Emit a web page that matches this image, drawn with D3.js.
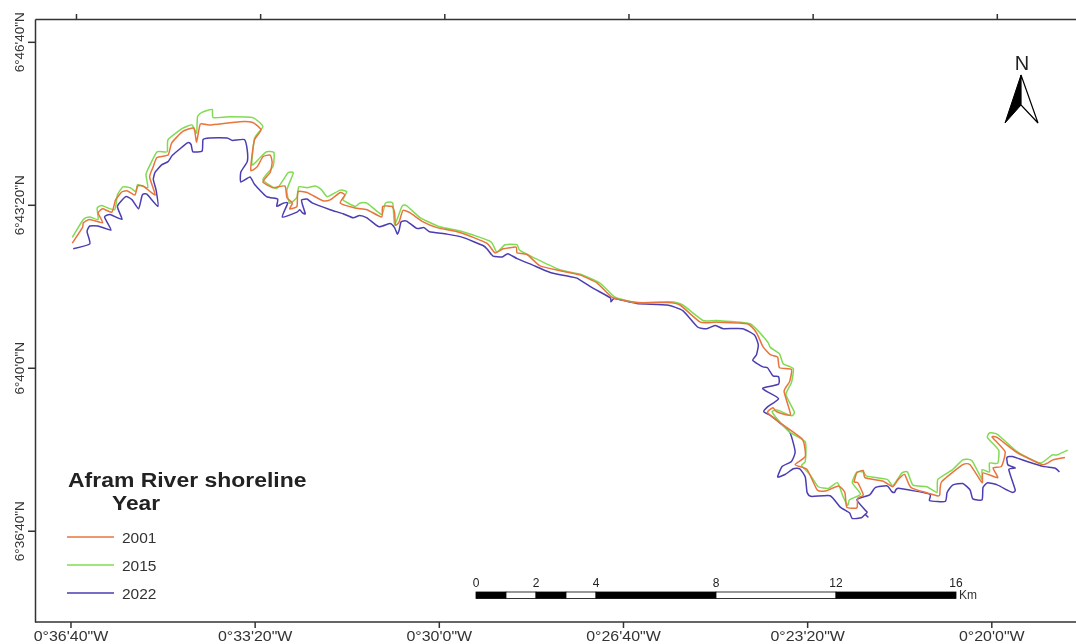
<!DOCTYPE html>
<html>
<head>
<meta charset="utf-8">
<script src="https://d3js.org/d3.v7.min.js"></script>
<style>
html, body { margin: 0; padding: 0; background: #fff; overflow: hidden; }
svg { display: block; filter: blur(0.45px); font-family: "Liberation Sans", Arial, sans-serif; }
</style>
</head>
<body>
<script>
const w = 1076
const h = 644

// all positions are arcseconds east of 0°36'40"W and south of 6°46'40"N
const xTicks = [0, 200, 400, 600, 800, 1000]
const xTickLabels = ["0°36'40\"W", "0°33'20\"W", "0°30'0\"W", "0°26'40\"W", "0°23'20\"W", "0°20'0\"W"]
const yTicks = [0, 200, 400, 600]
const yTickLabels = ["6°46'40\"N", "6°43'20\"N", "6°40'0\"N", "6°36'40\"N"]
const frameX = [-44.5, 1086]
const frameY = [-28, 712]

const years = ["2001", "2015", "2022"]
const yearColors = ["#e9743c", "#7fdc52", "#4b3db2"]

const shore2001 = [[-4,247],[7,228],[8,222],[15,218],[29,222],[24,210],[29,205],[39,209],[43,194],[50,184],[56,183],[64,188],[67,177],[73,177],[86,188],[80,166],[84,153],[88,142],[100,139],[104,124],[116,110],[128,106],[131,123],[135,101],[145,102],[178,98],[192,99],[201,108],[194,120],[191,141],[190,158],[197,153],[203,141],[211,139],[213,148],[211,160],[203,172],[214,179],[227,177],[229,191],[235,198],[232,205],[240,202],[241,184],[251,185],[268,195],[276,194],[287,185],[292,188],[287,198],[303,204],[316,206],[332,215],[333,202],[343,202],[346,210],[347,225],[351,221],[355,207],[363,210],[377,221],[392,228],[417,234],[446,247],[455,259],[464,254],[478,252],[479,259],[490,261],[504,275],[526,281],[547,286],[566,296],[583,314],[609,320],[642,320],[656,323],[678,344],[696,344],[729,346],[739,357],[746,374],[754,384],[762,387],[764,400],[777,402],[775,417],[769,429],[776,458],[761,454],[757,449],[751,455],[764,467],[789,488],[792,509],[781,519],[794,525],[805,550],[815,551],[828,545],[835,553],[837,571],[848,572],[849,560],[855,556],[849,541],[845,540],[848,529],[855,526],[857,535],[876,539],[887,546],[893,537],[900,531],[907,547],[935,557],[938,556],[940,540],[963,519],[971,519],[984,541],[985,529],[1001,535],[996,523],[1005,521],[1009,503],[995,485],[1001,486],[1022,504],[1050,519],[1061,513],[1074,510]]

const shore2015 = [[-4,240],[8,218],[15,215],[24,218],[23,204],[28,201],[42,206],[45,188],[51,178],[59,179],[65,184],[67,175],[78,179],[76,163],[80,152],[88,135],[99,135],[100,120],[116,106],[126,102],[131,112],[132,92],[138,86],[148,83],[149,93],[167,92],[192,93],[203,104],[194,118],[191,151],[200,142],[207,135],[215,136],[214,153],[203,169],[218,180],[230,161],[236,161],[229,182],[232,198],[240,191],[242,178],[251,179],[260,177],[267,182],[273,190],[287,182],[294,184],[290,194],[303,202],[308,198],[316,198],[332,212],[336,198],[344,198],[346,225],[354,202],[359,201],[374,216],[395,227],[420,233],[450,245],[457,258],[466,249],[479,249],[482,256],[501,267],[526,280],[547,285],[569,296],[585,313],[609,320],[645,319],[659,323],[681,342],[696,342],[732,346],[751,368],[754,375],[764,383],[768,395],[779,401],[777,418],[771,433],[780,454],[777,459],[762,452],[756,454],[764,466],[775,479],[792,491],[792,515],[788,520],[797,531],[806,546],[817,548],[827,541],[833,558],[838,569],[840,562],[852,555],[843,541],[848,528],[855,528],[859,533],[881,537],[887,545],[897,529],[903,528],[909,544],[924,546],[935,553],[936,537],[952,525],[963,513],[973,514],[984,537],[984,525],[992,528],[992,517],[1001,517],[1002,501],[990,486],[992,480],[1001,482],[1022,503],[1047,517],[1060,507],[1065,507],[1077,501]]

const shore2022 = [[-3,254],[15,248],[12,233],[15,226],[24,226],[38,231],[31,215],[37,212],[50,218],[45,202],[54,190],[61,194],[68,205],[72,188],[77,187],[89,202],[87,182],[84,169],[86,160],[93,151],[100,147],[105,139],[121,124],[125,126],[127,135],[137,134],[138,120],[145,118],[164,118],[170,121],[183,120],[186,133],[186,147],[179,160],[179,172],[189,166],[194,175],[207,190],[219,193],[218,202],[225,198],[230,198],[224,215],[240,209],[243,206],[246,210],[249,211],[246,200],[245,194],[251,193],[257,198],[276,206],[290,211],[301,216],[308,213],[316,216],[329,227],[341,223],[346,228],[349,236],[351,231],[353,221],[359,220],[370,229],[378,228],[384,233],[403,236],[420,240],[442,250],[447,255],[453,263],[463,264],[469,260],[479,266],[496,274],[515,283],[536,288],[544,290],[561,302],[580,314],[581,319],[585,315],[609,321],[642,323],[659,330],[675,350],[685,352],[694,348],[703,352],[724,352],[737,360],[741,372],[739,384],[735,391],[746,399],[751,400],[757,410],[763,411],[763,420],[746,425],[750,429],[763,438],[751,448],[747,454],[756,460],[775,479],[781,503],[777,515],[767,521],[762,534],[770,531],[779,524],[786,524],[792,534],[794,553],[799,558],[819,557],[830,571],[840,578],[843,585],[853,584],[857,580],[860,583],[857,580],[859,577],[848,562],[862,556],[868,547],[881,545],[886,552],[889,553],[893,548],[927,555],[927,563],[944,564],[946,553],[952,544],[963,542],[971,550],[974,561],[984,562],[985,547],[990,541],[1001,544],[1011,550],[1017,553],[1020,550],[1013,525],[1020,523],[1012,519],[1011,510],[1017,509],[1033,515],[1050,521],[1063,523],[1068,528]]

const shores = [shore2001, shore2015, shore2022]

const scaleMarks = [0, 2, 4, 8, 12, 16]
const scaleBreaks = [0, 1, 2, 3, 4, 8, 12, 16]

let svg = d3.select("body").append("svg").attr("width", w).attr("height", h)

let x = d3.scaleLinear().domain(frameX).range([35, w])
let y = d3.scaleLinear().domain(frameY).range([19, 622])
let km = d3.scaleLinear().domain([0, 16]).range([476, 956])

function styleAxis(g) {
    g.selectAll("path, line").attr("stroke", "#333").attr("stroke-width", 1.5)
    g.selectAll("text").attr("fill", "#333").attr("font-size", 14)
    g.attr("font-family", null)
}

svg.append("g").attr("transform", "translate(0,19)")
    .call(d3.axisTop(x).tickValues(xTicks).tickSize(5).tickSizeOuter(0).tickFormat(""))
    .call(styleAxis)

// the bottom ticks of the source sit about 5px left of the top ones
svg.append("g").attr("transform", "translate(-5.5,622)")
    .call(d3.axisBottom(x).tickValues(xTicks).tickSize(6).tickSizeOuter(0).tickPadding(3)
        .tickFormat((d, i) => xTickLabels[i]))
    .call(styleAxis)
    .call(g => g.select(".domain").remove())
    .call(g => g.selectAll("text").attr("transform", "scale(1.14,1)"))

svg.append("line")
    .attr("x1", x(frameX[0])).attr("x2", x(frameX[1]))
    .attr("y1", y(frameY[1])).attr("y2", y(frameY[1]))
    .attr("stroke", "#333").attr("stroke-width", 1.5)

svg.append("g").attr("transform", "translate(35,0)")
    .call(d3.axisLeft(y).tickValues(yTicks).tickSize(7).tickSizeOuter(0).tickFormat((d, i) => yTickLabels[i]))
    .call(styleAxis)
    .call(g => g.selectAll("text")
        .attr("font-size", 13.5)
        .attr("transform", "rotate(-90)")
        .attr("x", 0).attr("dx", null)
        .attr("y", -11).attr("dy", null)
        .attr("text-anchor", "middle"))

let line = d3.line()
    .x(d => x(d[0]))
    .y(d => y(d[1]))
    .curve(d3.curveCardinal.tension(0.5))

// 2022 underneath, then 2015, 2001 on top
;[2, 1, 0].forEach(i => {
    svg.append("path")
        .datum(shores[i])
        .attr("d", line)
        .attr("fill", "none")
        .attr("stroke", yearColors[i])
        .attr("stroke-width", 1.5)
        .attr("stroke-linejoin", "round")
})

// legend
svg.append("text").attr("transform", "translate(68,487) scale(1.12,1)")
    .attr("font-size", 20.5).attr("font-weight", "bold").attr("fill", "#222")
    .text("Afram River shoreline")
svg.append("text").attr("transform", "translate(112,510) scale(1.11,1)")
    .attr("font-size", 20.5).attr("font-weight", "bold").attr("fill", "#222")
    .text("Year")

years.forEach((yr, i) => {
    let ly = 537 + i * 28
    svg.append("line").attr("x1", 67).attr("x2", 114).attr("y1", ly).attr("y2", ly)
        .attr("stroke", yearColors[i]).attr("stroke-width", 1.3)
    svg.append("text").attr("transform", `translate(122,${ly + 6}) scale(1.07,1)`)
        .attr("font-size", 14.5).attr("fill", "#333").text(yr)
})

// scale bar
svg.selectAll("rect.seg")
    .data(d3.pairs(scaleBreaks))
    .enter()
    .append("rect")
    .attr("class", "seg")
    .attr("x", d => km(d[0]))
    .attr("width", d => km(d[1]) - km(d[0]))
    .attr("y", 592)
    .attr("height", 6.5)
    .attr("fill", (d, i) => i % 2 == 0 ? "#000" : "#fff")
    .attr("stroke", "#000")
    .attr("stroke-width", 0.8)

svg.selectAll("text.mark")
    .data(scaleMarks)
    .enter()
    .append("text")
    .attr("class", "mark")
    .attr("x", d => km(d))
    .attr("y", 587)
    .attr("text-anchor", "middle")
    .attr("font-size", 12)
    .attr("fill", "#222")
    .text(d => d)

svg.append("text").attr("x", 959).attr("y", 598.5)
    .attr("font-size", 12).attr("fill", "#333").text("Km")

// north arrow
svg.append("text").attr("x", 1022).attr("y", 70)
    .attr("text-anchor", "middle").attr("font-size", 20).attr("fill", "#222").text("N")
svg.append("path").attr("d", "M1021,75 L1021,105 L1005,123 Z").attr("fill", "#000").attr("stroke", "#000")
svg.append("path").attr("d", "M1021,75 L1021,105 L1038,123 Z").attr("fill", "#fff").attr("stroke", "#000").attr("stroke-width", 1.2)
</script>
</body>
</html>
